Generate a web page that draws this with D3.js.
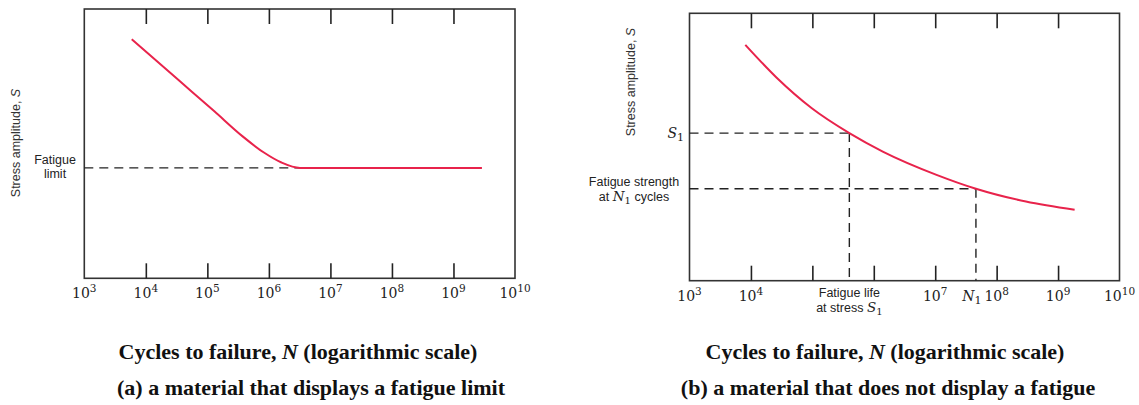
<!DOCTYPE html>
<html>
<head>
<meta charset="utf-8">
<script src="https://cdn.jsdelivr.net/npm/d3@7"></script>
<style>
  body { margin: 0; background: #fff; }
  svg { display: block; }
</style>
</head>
<body>
<div id="canvas"></div>
<script>
// ---- data (S in arbitrary units 0..100) ----
const decades = [1e3, 1e4, 1e5, 1e6, 1e7, 1e8, 1e9, 1e10];
const innerTicks = [1e4, 1e5, 1e6, 1e7, 1e8, 1e9];

// (a) material with a fatigue limit
const leftN = [5.9e3, 3.4e4, 1.3e5, 3.7e5, 8.3e5, 1.6e6, 3.2e6, 2.9e9];
const leftS = [88.8, 73.6, 62.0, 52.8, 46.7, 43.0, 41.0, 41.0];
const fatigueLimit = 41.0;
const kneeN = 3.2e6;

// (b) material without a fatigue limit
const rightN = [8.1e3, 2.6e4, 9.8e4, 4.0e5, 1.4e6, 1.05e7, 4.6e7, 3.0e8, 1.86e9];
const rightS = [88.2, 76.0, 64.5, 55.2, 48.3, 39.6, 34.4, 29.6, 26.5];
const S1 = 55.2, fatigueLifeN = 4.0e5;
const N1 = 4.6e7, strengthN1 = 34.4;

const leftTickLabels = ['3', '4', '5', '6', '7', '8', '9', '10'];
const rightTickLabels = ['3', '4', null, null, '7', '8', '9', '10'];

const red = '#e8234b';

const svg = d3.select('#canvas').append('svg')
  .attr('width', 1139).attr('height', 405);

function panel(opt) {
  const x = d3.scaleLog().domain([1e3, 1e10]).range(opt.xr);
  const y = d3.scaleLinear().domain([0, 100]).range(opt.yr);
  const g = svg.append('g');

  // frame
  g.append('rect')
    .attr('x', opt.xr[0]).attr('y', opt.yr[1])
    .attr('width', opt.xr[1] - opt.xr[0]).attr('height', opt.yr[0] - opt.yr[1])
    .attr('fill', 'none').attr('stroke', '#333').attr('stroke-width', 1.6);

  // inward ticks top and bottom
  const bottom = g.append('g').attr('transform', `translate(0,${opt.yr[0]})`)
    .call(d3.axisBottom(x).tickValues(innerTicks).tickSize(-15).tickSizeOuter(0).tickFormat(''));
  const top = g.append('g').attr('transform', `translate(0,${opt.yr[1]})`)
    .call(d3.axisTop(x).tickValues(innerTicks).tickSize(-15).tickSizeOuter(0).tickFormat(''));
  [bottom, top].forEach(a => {
    a.select('.domain').remove();
    a.selectAll('line').attr('stroke', '#222').attr('stroke-width', 1.6);
  });

  // tick labels 10^k
  const lab = g.append('g')
    .attr('font-family', '"DejaVu Serif", serif')
    .attr('fill', '#222')
    .attr('text-anchor', 'middle');
  decades.forEach((d, i) => {
    if (!opt.labels[i]) return;
    const t = lab.append('text')
      .attr('x', x(d)).attr('y', opt.yr[0] + 20)
      .attr('font-size', 14);
    t.append('tspan').text('10');
    t.append('tspan').attr('dy', -6).attr('font-size', 10.5).text(opt.labels[i]);
  });

  // y label
  g.append('text')
    .attr('transform', `translate(${opt.ylab[0]},${opt.ylab[1]}) rotate(-90)`)
    .attr('text-anchor', 'middle')
    .attr('font-family', '"Liberation Sans", Arial, sans-serif')
    .attr('font-size', 12.5).attr('fill', '#333')
    .text('Stress amplitude, ')
    .append('tspan').attr('font-style', 'italic').text('S');

  // curve
  const line = d3.line()
    .x(d => x(d[0])).y(d => y(d[1]))
    .curve(d3.curveMonotoneX);
  g.append('path')
    .datum(d3.zip(opt.N, opt.S))
    .attr('d', line)
    .attr('fill', 'none').attr('stroke', red).attr('stroke-width', 2);

  // titles
  const tt = svg.append('g')
    .attr('font-family', '"Liberation Serif", "Times New Roman", serif')
    .attr('font-weight', 'bold').attr('font-size', 22)
    .attr('text-anchor', 'middle').attr('fill', '#111');
  const t1 = tt.append('text').attr('x', opt.tx).attr('y', 359);
  t1.append('tspan').text('Cycles to failure, ');
  t1.append('tspan').attr('font-style', 'italic').text('N');
  t1.append('tspan').text(' (logarithmic scale)');
  tt.append('text').attr('x', opt.tx2).attr('y', 395).text(opt.title);

  return { g, x, y };
}

// dashed helper
function dash(g, x1, y1, x2, y2) {
  g.append('line')
    .attr('x1', x1).attr('y1', y1).attr('x2', x2).attr('y2', y2)
    .attr('stroke', '#222').attr('stroke-width', 1.4)
    .attr('stroke-dasharray', '9,6');
}

// ----- panel (a) -----
const A = panel({
  xr: [84.3, 515], yr: [278.3, 9],
  labels: leftTickLabels, N: leftN, S: leftS,
  ylab: [20, 143], tx: 298, tx2: 311,
  title: '(a) a material that displays a fatigue limit'
});
dash(A.g, A.x(1e3), A.y(fatigueLimit), A.x(kneeN), A.y(fatigueLimit));
A.g.select('path').raise();
const fl = A.g.append('g')
  .attr('font-family', '"Liberation Sans", Arial, sans-serif')
  .attr('font-size', 12.5).attr('fill', '#222').attr('text-anchor', 'middle');
fl.append('text').attr('x', 55).attr('y', A.y(fatigueLimit) - 4).text('Fatigue');
fl.append('text').attr('x', 55).attr('y', A.y(fatigueLimit) + 10).text('limit');

// ----- panel (b) -----
const B = panel({
  xr: [689.5, 1119.5], yr: [280.7, 13.3],
  labels: rightTickLabels, N: rightN, S: rightS,
  ylab: [635, 82], tx: 885, tx2: 888,
  title: '(b) a material that does not display a fatigue'
});
dash(B.g, B.x(1e3), B.y(S1), B.x(fatigueLifeN), B.y(S1));
dash(B.g, B.x(fatigueLifeN), B.y(S1), B.x(fatigueLifeN), B.y(0));
dash(B.g, B.x(1e3), B.y(strengthN1), B.x(N1), B.y(strengthN1));
dash(B.g, B.x(N1), B.y(strengthN1), B.x(N1), B.y(0));
B.g.select('path').raise();

const sans = '"Liberation Sans", Arial, sans-serif';
const serif = '"DejaVu Serif", serif';

// S1 label
const s1 = B.g.append('text')
  .attr('x', 684).attr('y', B.y(S1) + 5)
  .attr('text-anchor', 'end').attr('fill', '#222')
  .attr('font-family', serif).attr('font-size', 14);
s1.append('tspan').attr('font-style', 'italic').text('S');
s1.append('tspan').attr('font-size', 11).attr('dy', 3).text('1');

// Fatigue strength at N1 cycles
const fs = B.g.append('g').attr('font-family', sans).attr('font-size', 12.5)
  .attr('fill', '#222').attr('text-anchor', 'middle');
fs.append('text').attr('x', 634).attr('y', B.y(strengthN1) - 3).text('Fatigue strength');
const fs2 = fs.append('text').attr('x', 634).attr('y', B.y(strengthN1) + 12);
fs2.append('tspan').text('at ');
fs2.append('tspan').attr('font-family', serif).attr('font-style', 'italic').attr('font-size', 13.5).text('N');
fs2.append('tspan').attr('font-family', serif).attr('font-size', 10).attr('dy', 3).text('1');
fs2.append('tspan').attr('dy', -3).text(' cycles');

// Fatigue life at stress S1
const lf = B.g.append('g').attr('font-family', sans).attr('font-size', 12.5)
  .attr('fill', '#222').attr('text-anchor', 'middle');
lf.append('text').attr('x', B.x(fatigueLifeN)).attr('y', 297).text('Fatigue life');
const lf2 = lf.append('text').attr('x', B.x(fatigueLifeN)).attr('y', 311.5);
lf2.append('tspan').text('at stress ');
lf2.append('tspan').attr('font-family', serif).attr('font-style', 'italic').attr('font-size', 13.5).text('S');
lf2.append('tspan').attr('font-family', serif).attr('font-size', 10).attr('dy', 3).text('1');

// N1 label on axis
const n1 = B.g.append('text')
  .attr('x', B.x(N1) - 4).attr('y', 300.5)
  .attr('text-anchor', 'middle').attr('fill', '#222')
  .attr('font-family', serif).attr('font-size', 14);
n1.append('tspan').attr('font-style', 'italic').text('N');
n1.append('tspan').attr('font-size', 11).attr('dy', 3).text('1');
</script>
</body>
</html>
